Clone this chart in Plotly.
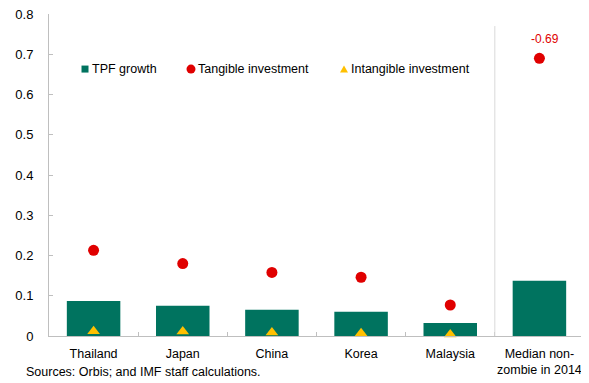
import plotly.graph_objects as go

# data
countries = ["Thailand", "Japan", "China", "Korea", "Malaysia", "Median non-<br>zombie in 2014"]
tpf_growth = [0.087, 0.075, 0.065, 0.060, 0.032, 0.137]
tangible = [0.213, 0.180, 0.158, 0.146, 0.077, 0.690]
intangible = [0.012, 0.011, 0.009, 0.007, 0.004, -0.002]
y_ticks = [0, 0.1, 0.2, 0.3, 0.4, 0.5, 0.6, 0.7, 0.8]
y_tick_text = ["0", "0.1", "0.2", "0.3", "0.4", "0.5", "0.6", "0.7", "0.8"]
series_names = ["TPF growth", "Tangible investment", "Intangible investment"]
median_label = "-0.69"
source_note = "Sources: Orbis; and IMF staff calculations."

teal = "#00735F"
red = "#E00000"
gold = "#FFC000"
axis_grey = "#BFBFBF"
font_main = "Liberation Sans, Arial, sans-serif"

fig = go.Figure()

fig.add_trace(go.Bar(
    x=countries, y=tpf_growth, name=series_names[0],
    marker=dict(color=teal, line=dict(width=0)), showlegend=False,
))
fig.add_trace(go.Scatter(
    x=countries, y=tangible, name=series_names[1], mode="markers",
    marker=dict(symbol="circle", size=11, color=red), cliponaxis=False, showlegend=False,
))
fig.add_trace(go.Scatter(
    x=countries, y=intangible, name=series_names[2], mode="markers",
    marker=dict(symbol="triangle-up", size=11, color=gold), cliponaxis=False, showlegend=False,
))

# separator between countries and the median firm
fig.add_shape(type="line", xref="x", yref="y", x0=4.5, x1=4.5, y0=0, y1=0.77,
              line=dict(color="#D9D9D9", width=1))

# the median tangible investment is plotted as a magnitude with its signed label
fig.add_annotation(x=countries[-1], y=tangible[-1], text=median_label, showarrow=False,
                   yshift=19, xshift=6, font=dict(color=red, size=12, family=font_main))

# legend drawn by hand so the symbol sits close to its text, as in the source chart
leg_y = 0.829
leg_x = [0.0673, 0.2654, 0.5514]
fig.add_shape(type="rect", xref="paper", yref="paper", xsizemode="pixel", ysizemode="pixel",
              xanchor=leg_x[0], yanchor=leg_y, x0=-3.5, x1=3.5, y0=-3.5, y1=3.5,
              fillcolor=teal, line=dict(width=0))
fig.add_shape(type="circle", xref="paper", yref="paper", xsizemode="pixel", ysizemode="pixel",
              xanchor=leg_x[1], yanchor=leg_y, x0=-4.5, x1=4.5, y0=-4.5, y1=4.5,
              fillcolor=red, line=dict(width=0))
fig.add_shape(type="path", xref="paper", yref="paper", xsizemode="pixel", ysizemode="pixel",
              xanchor=leg_x[2], yanchor=leg_y, path="M -4,-3.5 L 4,-3.5 L 0,3.5 Z",
              fillcolor=gold, line=dict(width=0))
for name, lx in zip(series_names, leg_x):
    fig.add_annotation(xref="paper", yref="paper", x=lx, y=leg_y, xshift=5, xanchor="left",
                       yanchor="middle", text=name, showarrow=False,
                       font=dict(size=12.5, color="black", family=font_main))

fig.add_annotation(xref="paper", yref="paper", x=-0.047, y=-0.112, xanchor="left", yanchor="middle",
                   text=source_note, showarrow=False,
                   font=dict(size=12.5, color="black", family=font_main))

# page body has an 8px margin, so the figure is 8px smaller than the window
fig.update_layout(
    width=581, height=375,
    margin=dict(l=41, r=5, t=6, b=47),
    plot_bgcolor="white", paper_bgcolor="white",
    font=dict(family=font_main, size=12.5, color="black"),
    bargap=0.4,
    showlegend=False,
    xaxis=dict(showline=True, linecolor=axis_grey, linewidth=1, ticks="inside",
               tickcolor=axis_grey, ticklen=4, tickson="boundaries", showgrid=False,
               tickangle=0, automargin=False, ticklabelstandoff=6),
    yaxis=dict(range=[0, 0.8], tickvals=y_ticks, ticktext=y_tick_text, showline=True,
               linecolor=axis_grey, linewidth=1, ticks="inside", tickcolor=axis_grey,
               ticklen=4, showgrid=False, zeroline=False, automargin=False,
               ticklabeloverflow="allow", ticklabelstandoff=12, tickfont=dict(size=13)),
)

fig.write_html("out.html")
